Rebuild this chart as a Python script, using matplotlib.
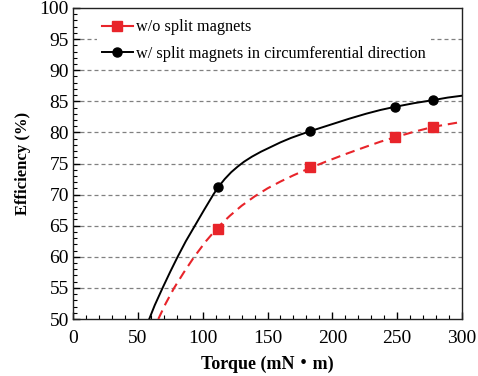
import matplotlib
matplotlib.use("Agg")
import matplotlib.pyplot as plt
from matplotlib.ticker import MultipleLocator

plt.rcParams['font.family'] = ['Liberation Serif', 'Noto Sans CJK JP']

# measured points
torque_pts = [112, 183, 248, 278]
eff_wo = [64.4, 74.4, 79.2, 80.8]
eff_w = [71.2, 80.2, 84.1, 85.2]

# trend curves
curve_w_x = [58.8, 63, 69.1, 75, 80.7, 87, 94, 101, 108.2, 112, 117, 122, 127, 132, 138, 145,
             152, 160, 168, 176, 183, 192, 201, 213, 226, 237, 248, 263, 278, 289, 300]
curve_w_y = [50.0, 52.2, 55.0, 57.6, 60.0, 62.5, 65.0, 67.5, 70.0, 71.2, 72.5, 73.6, 74.5, 75.3, 76.1, 76.9,
             77.6, 78.4, 79.1, 79.7, 80.2, 80.8, 81.4, 82.2, 83.0, 83.6, 84.1, 84.7, 85.2, 85.6, 85.9]
curve_wo_x = [65.8, 71.5, 78, 85.5, 93.5, 102.5, 112, 121, 130, 140, 150, 160, 170, 183, 195,
              210, 226, 237, 248, 263, 278, 289, 300]
curve_wo_y = [50.0, 52.5, 55.0, 57.5, 60.0, 62.5, 64.8, 66.6, 68.2, 69.7, 71.0, 72.1, 73.1, 74.3, 75.3,
              76.5, 77.7, 78.5, 79.2, 80.1, 80.9, 81.3, 81.7]

labels = ["w/o split magnets", "w/ split magnets in circumferential direction"]

RED = '#e8242a'

fig = plt.figure(figsize=(4.78, 3.76), dpi=100)
ax = fig.add_axes([73/478, 1 - 319/376, (462-73)/478, (319-8)/376])

ax.plot(curve_wo_x, curve_wo_y, color=RED, lw=1.5, ls=(0, (4.5, 2.8)), zorder=3)
ax.plot(curve_w_x, curve_w_y, color='black', lw=1.4, zorder=3)
ax.plot(torque_pts, eff_wo, ls='none', marker='s', ms=7, color=RED, zorder=4)
ax.plot(torque_pts, eff_w, ls='none', marker='o', ms=6.5, color='black', zorder=4)

# legend proxies
h1, = ax.plot([], [], color=RED, lw=1.5, marker='s', ms=7)
h2, = ax.plot([], [], color='black', lw=1.4, marker='o', ms=6.5)
leg = ax.legend([h1, h2], labels, loc='upper left', bbox_to_anchor=(0.062, 0.979),
                borderaxespad=0, frameon=True, fancybox=False, edgecolor='none',
                facecolor='white', framealpha=1,
                fontsize=11.7, handlelength=1.9, handletextpad=0.2, labelspacing=0.65,
                borderpad=0.3)
leg.set_zorder(5)

ax.set_xlim(0, 300)
ax.set_ylim(50, 100)
ax.xaxis.set_major_locator(MultipleLocator(50))
ax.xaxis.set_minor_locator(MultipleLocator(10))
ax.yaxis.set_major_locator(MultipleLocator(5))
ax.yaxis.set_minor_locator(MultipleLocator(1))
ax.tick_params(which='both', direction='in', top=False, right=False, labelsize=14, color='black')
ax.tick_params(which='major', length=5, width=1)
ax.tick_params(which='minor', length=3, width=0.8)
ax.tick_params(axis='x', pad=8)
ax.tick_params(axis='y', pad=3)

for yv in range(55, 100, 5):
    ax.axhline(yv, color='#808080', lw=0.9, ls=(0, (3.2, 2.4)), zorder=1)

for s in ax.spines.values():
    s.set_linewidth(1.0)
    s.set_color('#222222')

ax.set_xlabel('Torque (mN・m)', fontsize=13, fontweight='bold', labelpad=6)
ax.set_ylabel('Efficiency (%)', fontsize=12, fontweight='bold', labelpad=6)

fig.savefig('out.png', dpi=100)
